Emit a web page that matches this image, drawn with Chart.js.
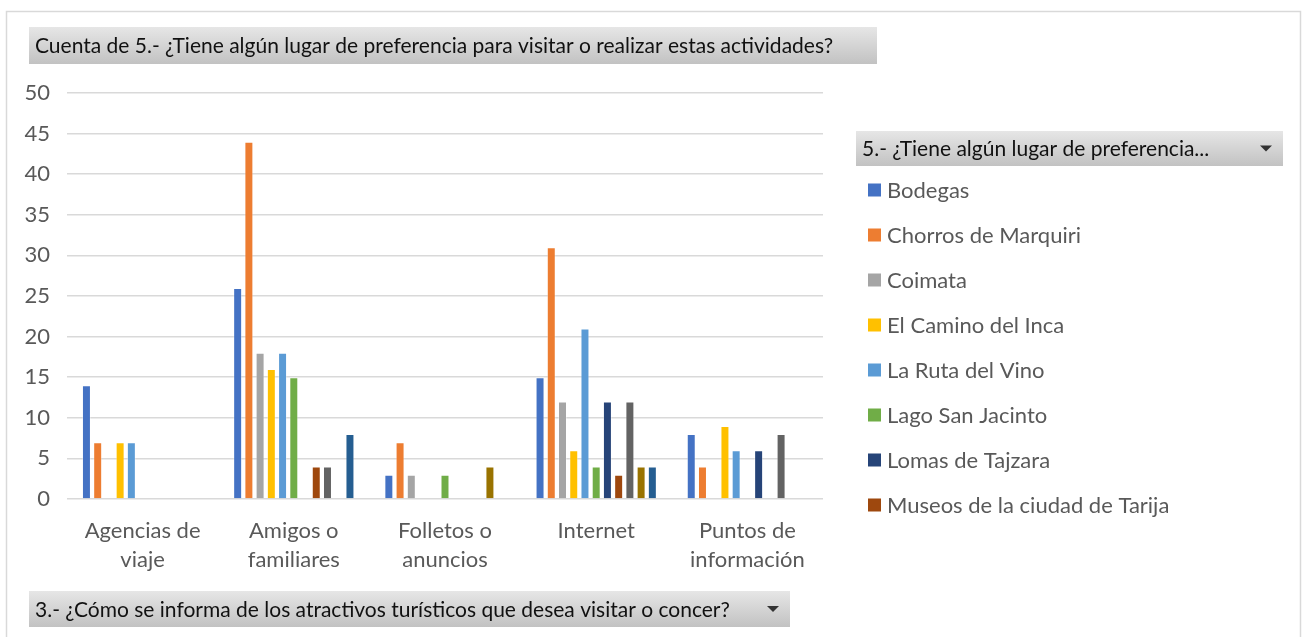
<!DOCTYPE html>
<html>
<head>
<meta charset="utf-8">
<script src="https://cdn.jsdelivr.net/npm/chart.js@4.4.1/dist/chart.umd.min.js"></script>
<style>
  html, body { margin: 0; padding: 0; background: #ffffff; }
  canvas { display: block; }
</style>
</head>
<body>
<canvas id="chart" width="1308" height="637"></canvas>
<script>
// Categories: how people learn about tourist attractions (question 3)
const categories = [
  ['Agencias de', 'viaje'],
  ['Amigos o', 'familiares'],
  ['Folletos o', 'anuncios'],
  ['Internet'],
  ['Puntos de', 'información']
];

// Preferred places (question 5), one series per place
const seriesNames = [
  'Bodegas',
  'Chorros de Marquiri',
  'Coimata',
  'El Camino del Inca',
  'La Ruta del Vino',
  'Lago San Jacinto',
  'Lomas de Tajzara',
  'Museos de la ciudad de Tarija',
  'Serie 9',
  'Serie 10',
  'Serie 11'
];

// Counts per category (null = no answers)
const bodegas      = [14, 26, 3, 15, 8];
const chorros      = [7, 44, 7, 31, 4];
const coimata      = [null, 18, 3, 12, null];
const caminoInca   = [7, 16, null, 6, 9];
const rutaVino     = [7, 18, null, 21, 6];
const lagoSJ       = [null, 15, 3, 4, null];
const lomasTajzara = [null, null, null, 12, 6];
const museos       = [null, 4, null, 3, null];
const serie9       = [null, 4, null, 12, 8];
const serie10      = [null, null, 4, 4, null];
const serie11      = [null, 8, null, 4, null];

const seriesValues = [bodegas, chorros, coimata, caminoInca, rutaVino, lagoSJ,
                      lomasTajzara, museos, serie9, serie10, serie11];

const seriesColors = ['#4472C4', '#ED7D31', '#A5A5A5', '#FFC000', '#5B9BD5', '#70AD47',
                      '#264478', '#9E480E', '#636363', '#997300', '#255E91'];

// Value axis
const yMin = 0;
const yMax = 50;
const yStep = 5;

const titleText = 'Cuenta de 5.- ¿Tiene algún lugar de preferencia para visitar o realizar estas actividades?';
const legendHeader = '5.- ¿Tiene algún lugar de preferencia...';
const axisHeader = '3.- ¿Cómo se informa de los atractivos turísticos que desea visitar o concer?';

const FONT = 'Lato, "Open Sans", sans-serif';

function drawButton(ctx, x, y, w, h, text, withArrow) {
  const g = ctx.createLinearGradient(0, y, 0, y + h);
  g.addColorStop(0, '#e6e6e6');
  g.addColorStop(1, '#c2c2c2');
  ctx.fillStyle = g;
  ctx.fillRect(x, y, w, h);
  ctx.fillStyle = '#111111';
  ctx.font = '21px ' + FONT;
  ctx.textBaseline = 'middle';
  ctx.textAlign = 'left';
  ctx.fillText(text, x + 6, y + h / 2 + 1);
  if (withArrow) {
    const ax = x + w - 17, ay = y + h / 2;
    ctx.fillStyle = '#333333';
    ctx.beginPath();
    ctx.moveTo(ax - 6, ay - 3);
    ctx.lineTo(ax + 6, ay - 3);
    ctx.lineTo(ax, ay + 3);
    ctx.closePath();
    ctx.fill();
  }
}

// Frame, field buttons and the series legend drawn around the plot
const pivotDecor = {
  id: 'pivotDecor',
  beforeDraw(chart) {
    const ctx = chart.ctx;
    ctx.save();
    ctx.fillStyle = '#ffffff';
    ctx.fillRect(0, 0, chart.width, chart.height);
    ctx.strokeStyle = '#d9d9d9';
    ctx.lineWidth = 1.5;
    ctx.strokeRect(6.5, 11.5, 1294, 640);
    drawButton(ctx, 29, 27, 848, 37, titleText, false);
    drawButton(ctx, 856, 131, 427, 35, legendHeader, true);
    drawButton(ctx, 29, 591, 761, 36, axisHeader, true);
    ctx.restore();
  },
  afterDraw(chart) {
    const ctx = chart.ctx;
    ctx.save();
    ctx.font = '22px ' + FONT;
    ctx.textBaseline = 'middle';
    ctx.textAlign = 'left';
    let y = 190;
    chart.data.datasets.forEach(ds => {
      if (y > 520) return;
      ctx.fillStyle = ds.backgroundColor;
      ctx.fillRect(868, y - 6.5, 13, 13);
      ctx.fillStyle = '#595959';
      ctx.fillText(ds.label, 887, y + 1);
      y += 45;
    });
    ctx.restore();
  }
};

const datasets = seriesNames.map((name, i) => ({
  label: name,
  data: seriesValues[i],
  backgroundColor: seriesColors[i],
  borderColor: 'rgba(255,255,255,0.35)',
  borderWidth: 1,
  barPercentage: 0.8,
  categoryPercentage: 0.817
}));

new Chart(document.getElementById('chart'), {
  type: 'bar',
  data: { labels: categories, datasets },
  plugins: [pivotDecor],
  options: {
    responsive: false,
    animation: false,
    layout: { padding: { left: 0, top: 93, right: 485, bottom: 0 } },
    plugins: {
      legend: { display: false },
      tooltip: { enabled: false }
    },
    scales: {
      x: {
        grid: { display: false },
        border: { display: false },
        ticks: {
          color: '#595959',
          font: { family: FONT, size: 22, lineHeight: 29 / 22 },
          padding: 9.5,
          maxRotation: 0,
          autoSkip: false
        },
        afterFit(scale) { scale.height = 138; }
      },
      y: {
        min: yMin,
        max: yMax,
        ticks: {
          stepSize: yStep,
          color: '#595959',
          font: { family: FONT, size: 22 },
          padding: 17
        },
        grid: { color: '#d9d9d9', lineWidth: 1.5, drawTicks: false },
        border: { display: false },
        afterFit(scale) { scale.width = 67; }
      }
    }
  }
});
</script>
</body>
</html>
